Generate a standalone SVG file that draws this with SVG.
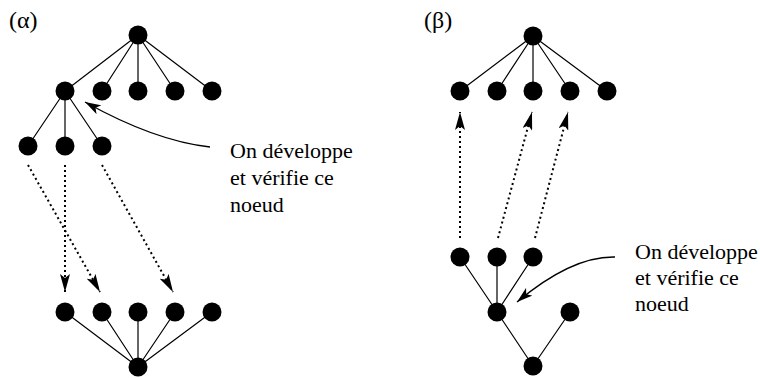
<svg xmlns="http://www.w3.org/2000/svg" width="760" height="378" viewBox="0 0 760 378">
<style>
.n{fill:#000}
.e{stroke:#000;stroke-width:1.2;fill:none}
.d{stroke:#000;stroke-width:2;stroke-dasharray:2 3;fill:none}
.c{stroke:#000;stroke-width:1.3;fill:none}
</style>
<defs>
<marker id="ah" viewBox="0 0 16 10" refX="16" refY="5" markerWidth="16" markerHeight="10" markerUnits="userSpaceOnUse" orient="auto">
<path d="M0,0 L16,5 L0,10 L4,5 Z" fill="#000"/>
</marker>
<marker id="ahd" viewBox="0 0 18 10" refX="18" refY="5" markerWidth="18" markerHeight="10" markerUnits="userSpaceOnUse" orient="auto">
<path d="M0,0 L18,5 L0,10 L4,5 Z" fill="#000"/>
</marker>
</defs>
<g font-family="'Liberation Serif', 'Times New Roman', 'DejaVu Serif', serif" fill="#000">
<text font-size="24" x="9" y="28">(α)</text>
<text font-size="24" x="424" y="28">(β)</text>
</g>
<g id="connectors">
<path class="e" d="M138,35 L65,91 M138,35 L102,91 M138,35 L138,91 M138,35 L175,91 M138,35 L212,91"/>
<path class="e" d="M65,91 L28,146 M65,91 L65,146 M65,91 L102,146"/>
<path class="e" d="M138,367 L65,312 M138,367 L102,312 M138,367 L138,312 M138,367 L175,312 M138,367 L212,312"/>
<path class="d" d="M28,165 L100,292" marker-end="url(#ahd)"/>
<path class="d" d="M65,165 L65,292" marker-end="url(#ahd)"/>
<path class="d" d="M102,165 L173,292" marker-end="url(#ahd)"/>
<path class="c" d="M210,147 Q155,141 85,102" marker-end="url(#ah)"/>
<path class="e" d="M533,36 L460,91 M533,36 L497,91 M533,36 L533,91 M533,36 L570,91 M533,36 L607,91"/>
<path class="e" d="M460,257 L497,312 M497,257 L497,312 M533,257 L497,312"/>
<path class="e" d="M497,312 L533,366 M570,312 L533,366"/>
<path class="d" d="M460,238 L460,112" marker-end="url(#ahd)"/>
<path class="d" d="M498,238 L532,112" marker-end="url(#ahd)"/>
<path class="d" d="M535,238 L568,112" marker-end="url(#ahd)"/>
<path class="c" d="M615,257 Q572,256 517,302" marker-end="url(#ah)"/>
</g>
<g id="a_root"><circle class="n" cx="138" cy="35" r="9.5"/></g>
<g id="a_l1_1"><circle class="n" cx="65" cy="91" r="9.5"/></g>
<g id="a_l1_2"><circle class="n" cx="102" cy="91" r="9.5"/></g>
<g id="a_l1_3"><circle class="n" cx="138" cy="91" r="9.5"/></g>
<g id="a_l1_4"><circle class="n" cx="175" cy="91" r="9.5"/></g>
<g id="a_l1_5"><circle class="n" cx="212" cy="91" r="9.5"/></g>
<g id="a_l2_1"><circle class="n" cx="28" cy="146" r="9.5"/></g>
<g id="a_l2_2"><circle class="n" cx="65" cy="146" r="9.5"/></g>
<g id="a_l2_3"><circle class="n" cx="102" cy="146" r="9.5"/></g>
<g id="a_b_1"><circle class="n" cx="65" cy="312" r="9.5"/></g>
<g id="a_b_2"><circle class="n" cx="102" cy="312" r="9.5"/></g>
<g id="a_b_3"><circle class="n" cx="138" cy="312" r="9.5"/></g>
<g id="a_b_4"><circle class="n" cx="175" cy="312" r="9.5"/></g>
<g id="a_b_5"><circle class="n" cx="212" cy="312" r="9.5"/></g>
<g id="a_b_root"><circle class="n" cx="138" cy="367" r="9.5"/></g>
<g id="a_note" font-family="'Liberation Serif', 'Times New Roman', 'DejaVu Serif', serif" font-size="22" fill="#000"><text x="230" y="158">On développe</text><text x="230" y="185">et vérifie ce</text><text x="230" y="212">noeud</text></g>
<g id="b_root"><circle class="n" cx="533" cy="36" r="9.5"/></g>
<g id="b_l1_1"><circle class="n" cx="460" cy="91" r="9.5"/></g>
<g id="b_l1_2"><circle class="n" cx="497" cy="91" r="9.5"/></g>
<g id="b_l1_3"><circle class="n" cx="533" cy="91" r="9.5"/></g>
<g id="b_l1_4"><circle class="n" cx="570" cy="91" r="9.5"/></g>
<g id="b_l1_5"><circle class="n" cx="607" cy="91" r="9.5"/></g>
<g id="b_m_1"><circle class="n" cx="460" cy="257" r="9.5"/></g>
<g id="b_m_2"><circle class="n" cx="497" cy="257" r="9.5"/></g>
<g id="b_m_3"><circle class="n" cx="533" cy="257" r="9.5"/></g>
<g id="b_mid"><circle class="n" cx="497" cy="312" r="9.5"/></g>
<g id="b_right"><circle class="n" cx="570" cy="312" r="9.5"/></g>
<g id="b_bottom"><circle class="n" cx="533" cy="366" r="9.5"/></g>
<g id="b_note" font-family="'Liberation Serif', 'Times New Roman', 'DejaVu Serif', serif" font-size="22" fill="#000"><text x="635" y="259">On développe</text><text x="635" y="285">et vérifie ce</text><text x="635" y="311">noeud</text></g>
</svg>
